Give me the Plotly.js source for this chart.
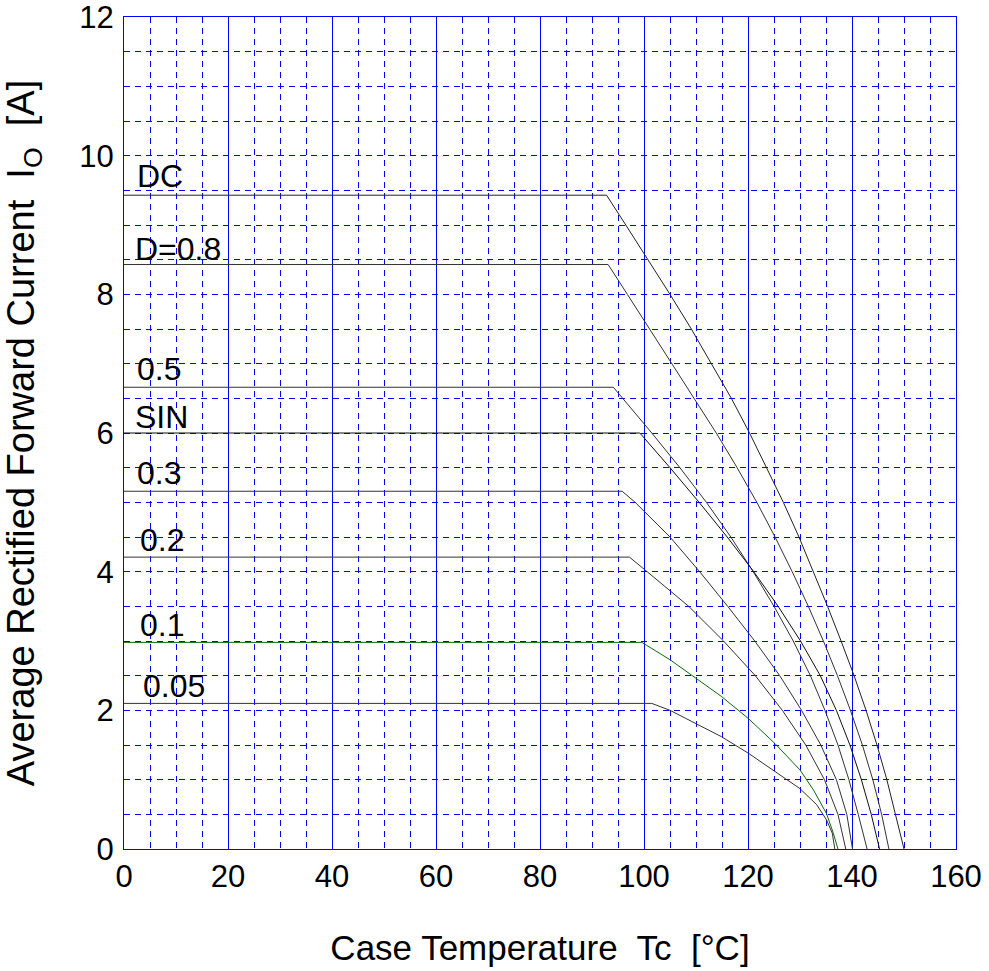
<!DOCTYPE html>
<html>
<head>
<meta charset="utf-8">
<script src="https://cdn.plot.ly/plotly-3.0.1.min.js"></script>
<style>html,body{margin:0;padding:0;background:#fff;}#chart{width:989px;height:971px;}</style>
</head>
<body>
<div id="chart"></div>
<script>
// ---- data ----
const seriesNames = ["DC", "D=0.8", "0.5", "SIN", "0.3", "0.2", "0.1", "0.05"];

const tDC  = [0, 92.8, 96.5, 100.8, 105.0, 109.1, 113.0, 116.8, 120.3, 123.6, 126.8, 129.8, 132.6, 135.3, 137.9, 140.4, 142.7, 144.8, 146.7, 148.4, 150.0];
const iDC  = [9.43, 9.43, 9.0, 8.5, 8.0, 7.5, 7.0, 6.5, 6.0, 5.5, 5.0, 4.5, 4.0, 3.5, 3.0, 2.5, 2.0, 1.5, 1.0, 0.5, 0];

const tD08 = [0, 93.1, 96.8, 101.1, 105.4, 109.7, 113.9, 117.9, 121.7, 125.2, 128.5, 131.6, 134.5, 137.2, 139.7, 142.0, 144.0, 145.7, 147.1];
const iD08 = [8.43, 8.43, 8.0, 7.5, 7.0, 6.5, 6.0, 5.5, 5.0, 4.5, 4.0, 3.5, 3.0, 2.5, 2.0, 1.5, 1.0, 0.5, 0];

const tD05 = [0, 94.1, 95.9, 101.5, 106.9, 112.0, 116.7, 121.0, 125.0, 128.7, 132.0, 134.8, 137.3, 139.4, 141.2, 142.9];
const iD05 = [6.66, 6.66, 6.5, 6.0, 5.5, 5.0, 4.5, 4.0, 3.5, 3.0, 2.5, 2.0, 1.5, 1.0, 0.5, 0];

const tSIN = [0, 99.2, 105.0, 110.6, 116.0, 121.1, 125.8, 130.1, 133.9, 137.0, 139.6, 141.8, 143.7, 145.3];
const iSIN = [6.0, 6.0, 5.5, 5.0, 4.5, 4.0, 3.5, 3.0, 2.5, 2.0, 1.5, 1.0, 0.5, 0];

const tD03 = [0, 95.8, 98.3, 105.0, 110.7, 116.1, 121.3, 126.1, 130.3, 134.0, 137.0, 139.0, 140.1];
const iD03 = [5.16, 5.16, 5.0, 4.5, 4.0, 3.5, 3.0, 2.5, 2.0, 1.5, 1.0, 0.5, 0];

const tD02 = [0, 97.2, 100.6, 108.6, 115.3, 121.4, 126.6, 131.1, 134.7, 137.3, 138.8];
const iD02 = [4.21, 4.21, 4.0, 3.5, 3.0, 2.5, 2.0, 1.5, 1.0, 0.5, 0];

const tD01 = [0, 99.6, 105, 110.1, 114.9, 120.1, 125.2, 130, 132.6, 135.1, 136.4, 137.3];
const iD01 = [2.98, 2.98, 2.73, 2.46, 2.20, 1.88, 1.52, 1.14, 0.85, 0.51, 0.23, 0];

const tD005 = [0, 101.5, 105, 110.1, 114.9, 120.1, 125.1, 130, 133.2, 135.1, 136.2, 136.7];
const iD005 = [2.10, 2.10, 2.0, 1.81, 1.62, 1.38, 1.12, 0.87, 0.64, 0.42, 0.23, 0];

const xTickVals = [0, 20, 40, 60, 80, 100, 120, 140, 160];
const yTickVals = [0, 2, 4, 6, 8, 10, 12];

// ---- build ----
const xs = [tDC, tD08, tD05, tSIN, tD03, tD02, tD01, tD005];
const ys = [iDC, iD08, iD05, iSIN, iD03, iD02, iD01, iD005];
const colors = ["#222", "#333", "#333", "#111", "#333", "#333", "#0b6b0b", "#333"];
const labelXShift = [11, 9, 11, 9, 11, 14, 14, 17];
const labelYShift = [-1, -4, -2, -4, -2, -3, -3, -3];

const traces = seriesNames.map((n, k) => ({
  type: "scatter", mode: "lines", name: n,
  x: xs[k], y: ys[k],
  line: {color: colors[k], width: 1},
  hoverinfo: "skip", showlegend: false
}));

const font = "Arial, 'Liberation Sans', Helvetica, sans-serif";
const blue = "#0000ff";

const annotations = seriesNames.map((n, k) => ({
  x: 0, y: ys[k][0], xref: "x", yref: "y",
  text: n, showarrow: false, xanchor: "left", yanchor: "bottom",
  xshift: labelXShift[k], yshift: labelYShift[k],
  font: {family: font, size: 32, color: "#000"}
}));

const layout = {
  width: 989, height: 971,
  margin: {l: 124, r: 33, t: 17, b: 122},
  paper_bgcolor: "#fff", plot_bgcolor: "#fff",
  showlegend: false,
  font: {family: font, color: "#000"},
  xaxis: {
    range: [0, 160], tickvals: xTickVals, ticktext: xTickVals.map(String),
    showline: true, linecolor: blue, linewidth: 1, mirror: true,
    showgrid: true, gridcolor: blue, gridwidth: 1,
    zeroline: false, ticks: "", ticklabelstandoff: 0, ticklabeloverflow: "allow",
    tickfont: {family: font, size: 31, color: "#000"},
    minor: {dtick: 5, showgrid: true, gridcolor: blue, gridwidth: 1, griddash: "6px,5px"},
    title: {text: "Case Temperature\u00A0 Tc\u00A0 [°C]", font: {family: font, size: 35, color: "#000"}, standoff: 42},
    automargin: false, fixedrange: true
  },
  yaxis: {
    range: [0, 12], tickvals: yTickVals, ticktext: yTickVals.map(String),
    showline: true, linecolor: blue, linewidth: 1, mirror: true,
    showgrid: true, gridcolor: blue, gridwidth: 1, griddash: "6px,5px",
    zeroline: false, ticks: "", ticklabelstandoff: 3, ticklabeloverflow: "allow",
    tickfont: {family: font, size: 31, color: "#000"},
    minor: {dtick: 0.5, showgrid: true, gridcolor: blue, gridwidth: 1, griddash: "6px,5px"},
    title: {text: "Average Rectified Forward Current\u00A0 I<sub>O</sub>\u00A0 [A]", font: {family: font, size: 38, color: "#000"}, standoff: 40},
    automargin: false, fixedrange: true
  },
  annotations: annotations
};

Plotly.newPlot("chart", traces, layout, {staticPlot: true, displayModeBar: false});
</script>
</body>
</html>
